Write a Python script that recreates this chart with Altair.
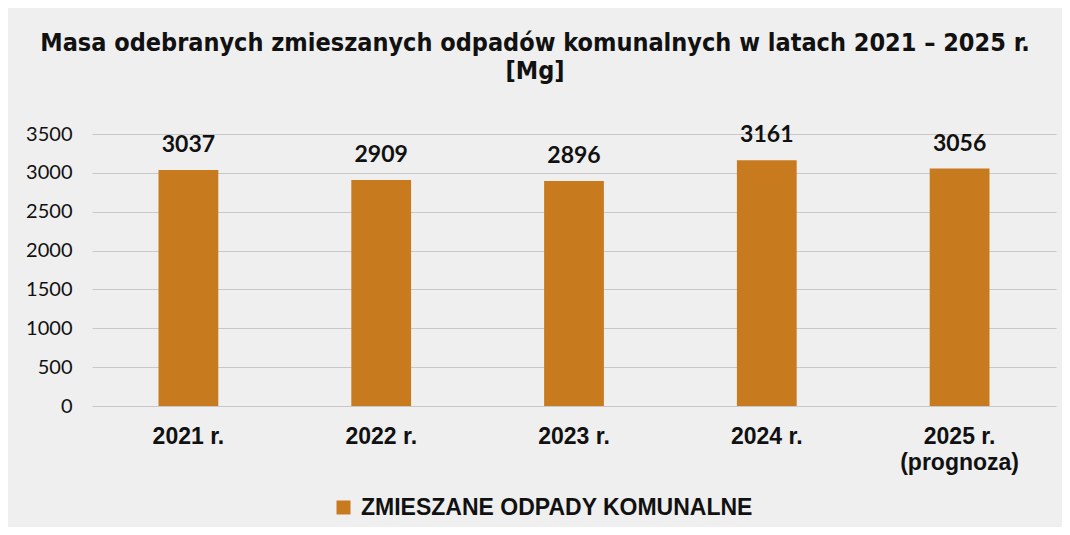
import altair as alt
import pandas as pd

categories = ["2021 r.", "2022 r.", "2023 r.", "2024 r.", "2025 r.|(prognoza)"]
values = [3037, 2909, 2896, 3161, 3056]
series = "ZMIESZANE ODPADY KOMUNALNE"
y_ticks = [0, 500, 1000, 1500, 2000, 2500, 3000, 3500]

df = pd.DataFrame({"rok": categories, "masa": values, "seria": [series] * len(categories)})

bar_color = "#C87A1E"
bg = "#EFEFEF"

x = alt.X("rok:N", sort=categories, title=None,
          scale=alt.Scale(paddingInner=0.69, paddingOuter=0.345),
          axis=alt.Axis(labelAngle=0, labelFont="Liberation Sans", labelFontWeight="bold",
                        labelFontSize=23, labelColor="#111", labelPadding=19,
                        labelExpr="split(datum.label, '|')", labelLineHeight=26,
                        domain=False, ticks=False, labelBaseline="top"))
y = alt.Y("masa:Q", title=None,
          scale=alt.Scale(domain=[0, 3500], nice=False),
          axis=alt.Axis(values=y_ticks, format="d", labelOverlap=False, labelFont="Lato",
                        labelFontSize=20, labelColor="#111", labelPadding=20,
                        domain=False, ticks=False, gridColor="#C8C8C8", gridWidth=1))

bars = alt.Chart(df).mark_bar().encode(
    x=x, y=y,
    color=alt.Color("seria:N", scale=alt.Scale(range=[bar_color]),
                    legend=alt.Legend(title=None, orient="none", legendX=240, legendY=362,
                                      symbolType="square", symbolSize=196, symbolStrokeWidth=0,
                                      labelFont="Liberation Sans", labelFontWeight="bold",
                                      labelFontSize=23, labelColor="#111", labelLimit=700,
                                      labelOffset=6, padding=0))
)

labels = alt.Chart(df).mark_text(dy=-13, baseline="bottom", font="Lato", fontWeight="bold",
                                 fontSize=23, color="#111").encode(
    x=x, y=y, text="masa:Q")

chart = alt.layer(bars, labels).properties(
    width=964, height=272,
    autosize=alt.AutoSizeParams(type="none"),
    padding={"left": 84, "top": 126, "right": 6, "bottom": 121},
    background=bg,
    title=alt.TitleParams(
        text=["Masa odebranych zmieszanych odpadów komunalnych w latach 2021 – 2025 r.", "[Mg]"],
        font="Liberation Sans Narrow, Arial Narrow, DejaVu Sans Condensed",
        fontSize=25, fontWeight="bold", color="#111", anchor="middle", dx=-39,
        offset=40, lineHeight=28),
).configure_view(stroke=None)

chart.save("out.html", embed_options={"renderer": "svg", "actions": False})
